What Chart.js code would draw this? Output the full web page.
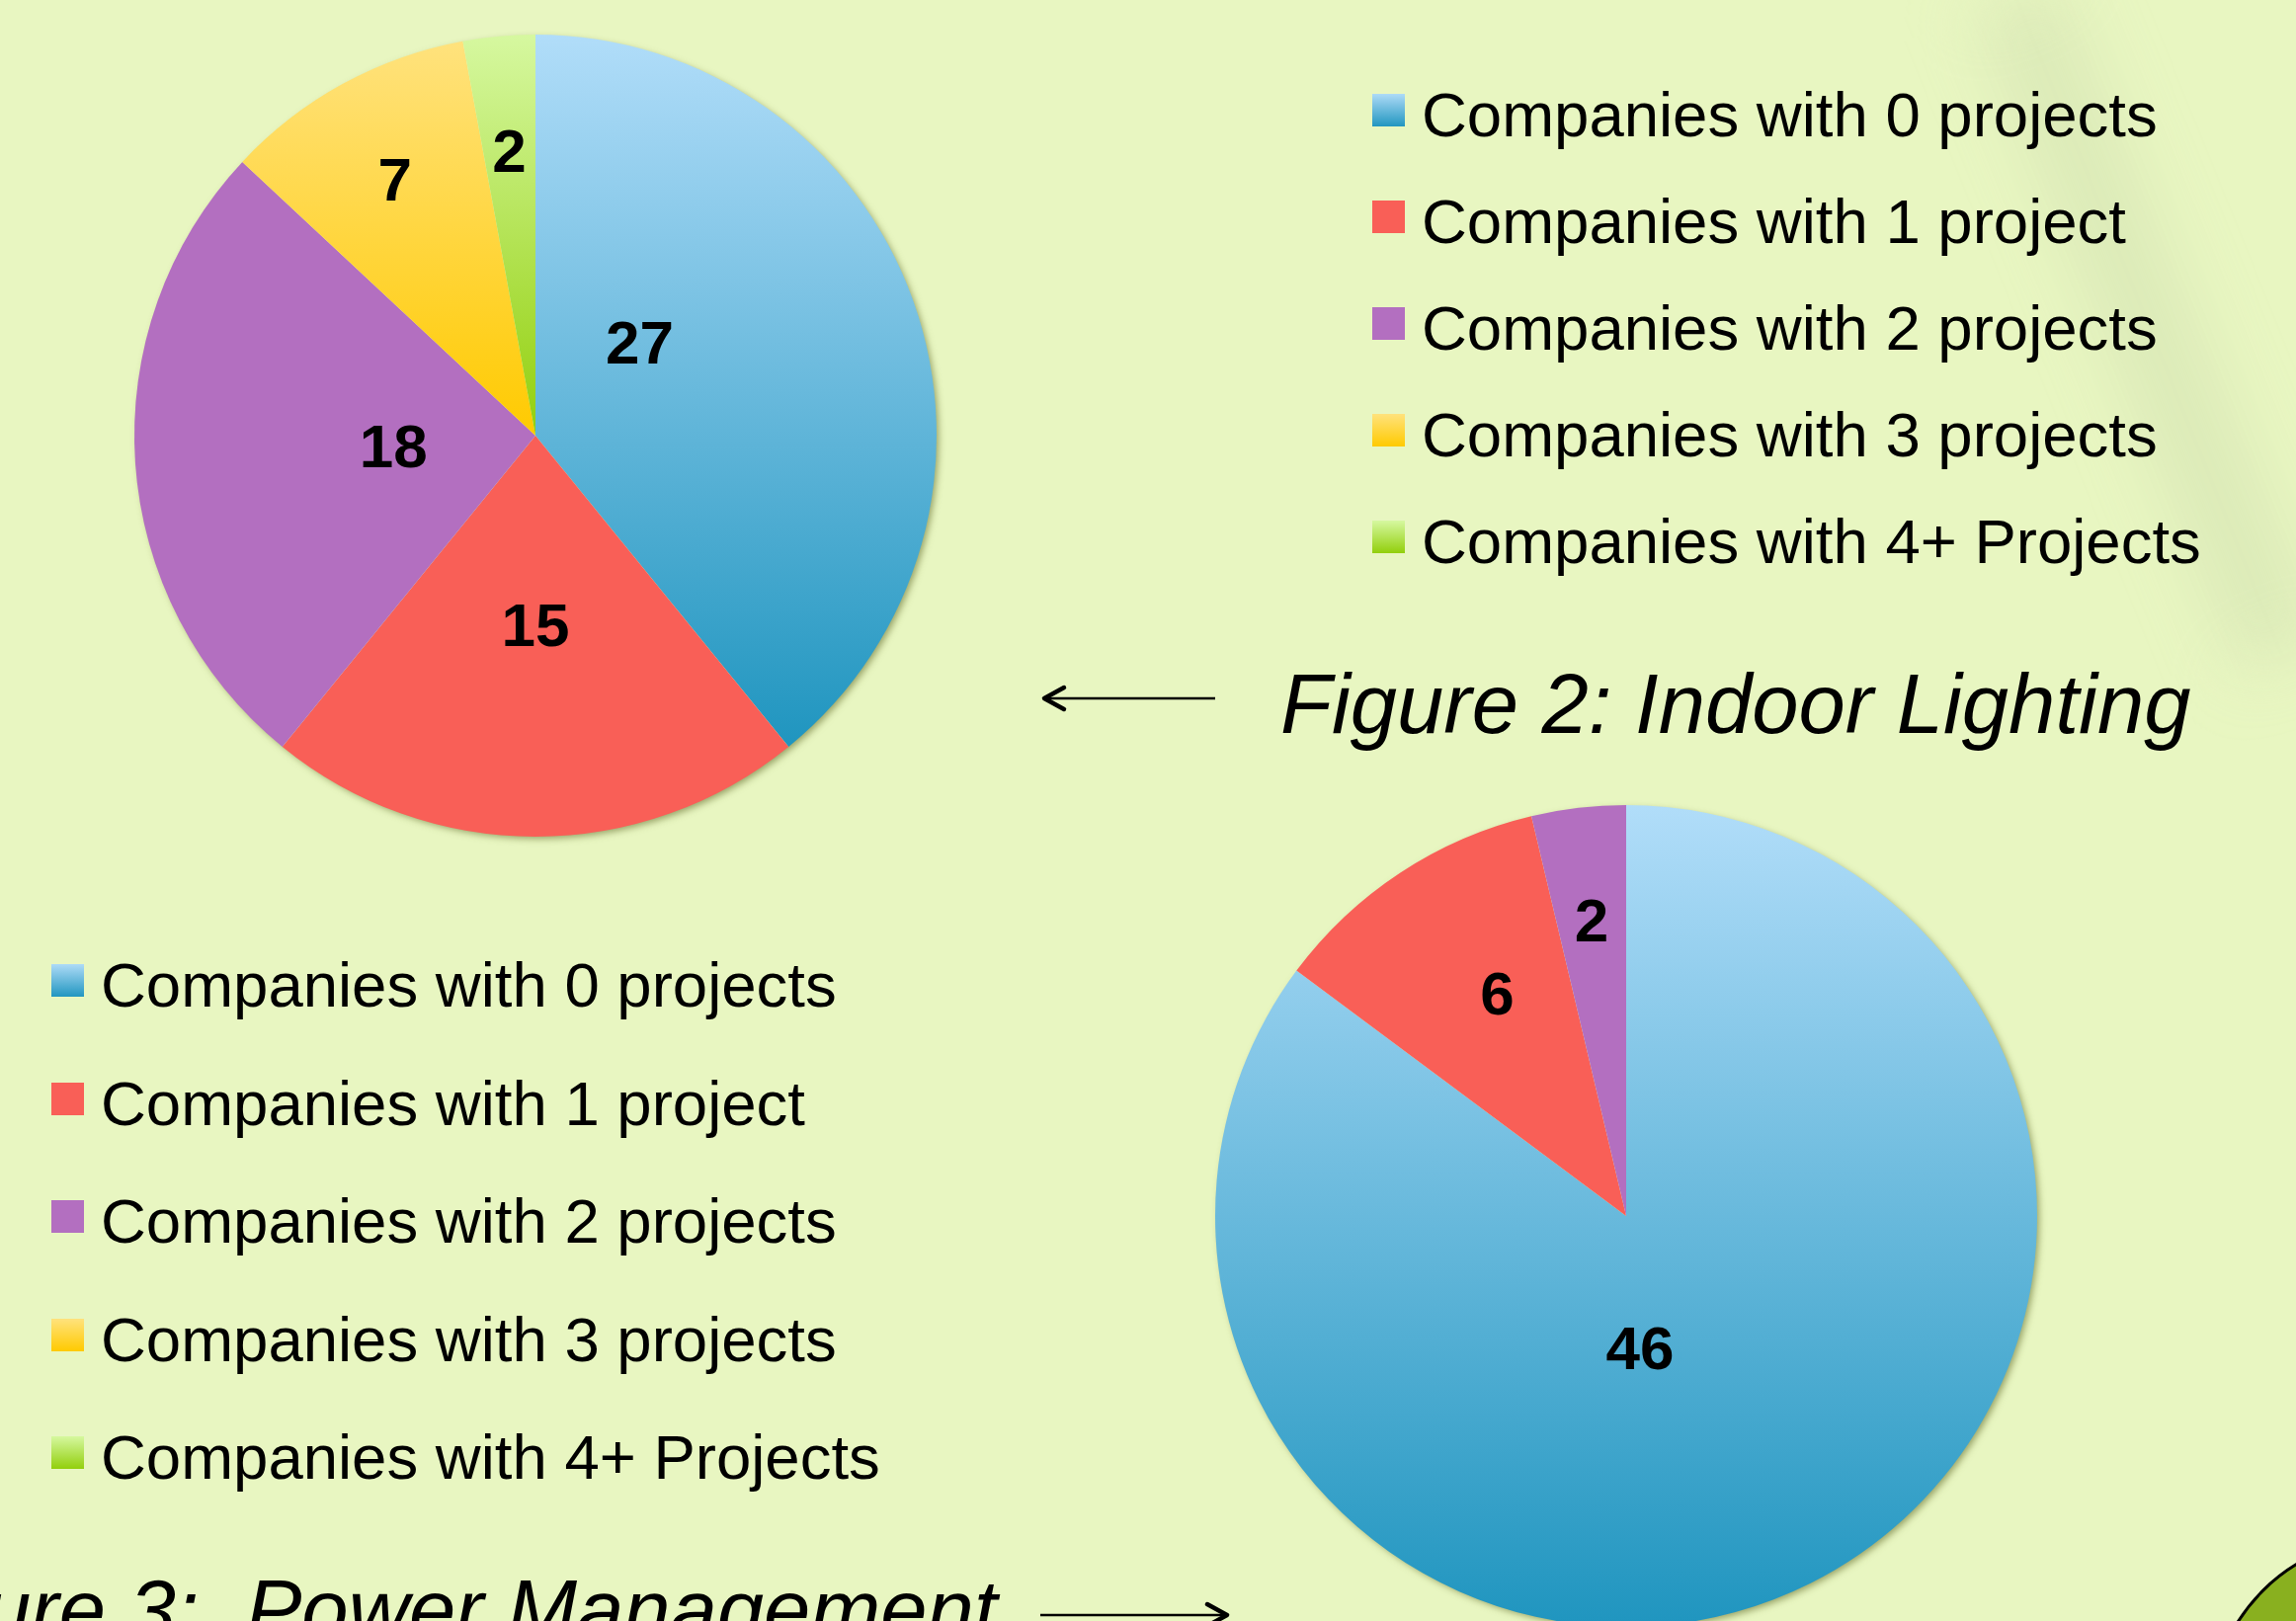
<!DOCTYPE html>
<html>
<head>
<meta charset="utf-8">
<script src="https://cdn.jsdelivr.net/npm/chart.js@4.4.0/dist/chart.umd.min.js"></script>
<style>
  html, body { margin: 0; padding: 0; }
  body {
    width: 2324px; height: 1641px; overflow: hidden; position: relative;
    background: #e8f6c1;
    font-family: "Liberation Sans", Arial, sans-serif;
  }
  .streak {
    position: absolute; left: 2130px; top: -30px; width: 90px; height: 720px;
    background: rgba(200, 214, 170, 0.4); filter: blur(34px);
    transform: rotate(-22deg);
  }
  .corner {
    position: absolute; left: 2236px; top: 1556px; width: 364px; height: 364px;
    border-radius: 50%; background: #89b01f; border: 3px solid #000; box-sizing: border-box;
  }
  canvas { position: absolute; }
  #indoorChart { left: 116px; top: 15px; }
  #powerChart { left: 1210px; top: 795px; }
  .legend { position: absolute; font-size: 63.5px; line-height: 1; color: #000; white-space: nowrap; }
  .legend .row { position: absolute; left: 0; }
  .legend .box { position: absolute; width: 33px; height: 33px; }
  .legend .txt { position: absolute; top: 0; }
  .caption {
    position: absolute; font-size: 85px; line-height: 1; font-style: italic;
    color: #000; white-space: pre;
  }
  svg { position: absolute; left: 0; top: 0; }
</style>
</head>
<body>
<div class="streak"></div>
<div class="corner"></div>

<canvas id="indoorChart" width="852" height="852"></canvas>
<canvas id="powerChart" width="872" height="872"></canvas>

<div class="legend" id="legendIndoor" style="left:1389px; top:85px;"></div>
<div class="legend" id="legendPower" style="left:52px; top:966px;"></div>

<div class="caption" style="left:1296px; top:670px;">Figure 2: Indoor Lighting</div>
<div class="caption" style="left:-134px; top:1587px;">Figure 3:  Power Management</div>

<svg width="2324" height="1641">
  <line x1="1057" y1="707" x2="1230" y2="707" stroke="#000" stroke-width="2.5"/>
  <polyline points="1077,696 1057,707 1077,718" fill="none" stroke="#000" stroke-width="4.5" stroke-linecap="round" stroke-linejoin="round"/>
  <line x1="1053" y1="1635" x2="1242" y2="1635" stroke="#000" stroke-width="2.5"/>
  <polyline points="1222,1624 1242,1635 1222,1646" fill="none" stroke="#000" stroke-width="4.5" stroke-linecap="round" stroke-linejoin="round"/>
</svg>

<script>
const categories = [
  'Companies with 0 projects',
  'Companies with 1 project',
  'Companies with 2 projects',
  'Companies with 3 projects',
  'Companies with 4+ Projects'
];
const indoorLightingValues = [27, 15, 18, 7, 2];
const powerManagementValues = [46, 6, 2, 0, 0];

// slice fills: [top, bottom] pairs are vertical gradients over the slice
const sliceColors = [
  ['#b1ddf9', '#1f95bf'],
  '#f95f57',
  '#b36fc0',
  ['#ffe27d', '#ffca00'],
  ['#d6f8a0', '#92cf0c']
];
const legendSwatches = [
  'linear-gradient(#aedbf7, #2196c0)',
  '#f95f57',
  '#b36fc0',
  'linear-gradient(#ffe27d, #ffca00)',
  'linear-gradient(#d6f8a0, #92cf0c)'
];

// label placement: angle (deg clockwise from top, null = slice middle) and radius fraction
const indoorLabelAngles = [48, null, null, null, null];
const indoorLabelRadii = [0.35, 0.47, 0.355, 0.73, 0.715];
const powerLabelAngles = [174, 330, null, null, null];
const powerLabelRadii = [0.32, 0.627, 0.726, 0.7, 0.7];

function sliceFill(c) {
  const col = sliceColors[c.dataIndex];
  if (!Array.isArray(col)) return col;
  const chart = c.chart;
  const area = chart.chartArea;
  if (!area) return col[1];
  const data = c.dataset.data;
  const total = data.reduce((a, b) => a + b, 0);
  let before = 0;
  for (let i = 0; i < c.dataIndex; i++) before += data[i];
  const cx = (area.left + area.right) / 2;
  const cy = (area.top + area.bottom) / 2;
  const R = Math.min(area.right - area.left, area.bottom - area.top) / 2;
  const start = -Math.PI / 2 + 2 * Math.PI * before / total;
  const end = start + 2 * Math.PI * data[c.dataIndex] / total;
  const ys = [cy, cy + R * Math.sin(start), cy + R * Math.sin(end)];
  [-Math.PI / 2, Math.PI / 2, 3 * Math.PI / 2].forEach(k => {
    if (k >= start && k <= end) ys.push(cy + R * Math.sin(k));
  });
  const top = Math.min(...ys);
  const bottom = Math.max(...ys);
  const g = chart.ctx.createLinearGradient(0, top, 0, bottom + 1);
  g.addColorStop(0, col[0]);
  g.addColorStop(1, col[1]);
  return g;
}

const pieShadow = {
  id: 'pieShadow',
  beforeDatasetsDraw(chart) {
    const arc = chart.getDatasetMeta(0).data[0];
    if (!arc) return;
    const ctx = chart.ctx;
    ctx.save();
    ctx.shadowColor = 'rgba(95, 105, 40, 0.6)';
    ctx.shadowBlur = 7;
    ctx.shadowOffsetX = 3;
    ctx.shadowOffsetY = 3;
    ctx.beginPath();
    ctx.arc(arc.x, arc.y, arc.outerRadius - 1, 0, Math.PI * 2);
    ctx.fillStyle = '#e8f6c1';
    ctx.fill();
    ctx.restore();
  }
};

const sliceLabels = {
  id: 'sliceLabels',
  afterDatasetsDraw(chart, args, opts) {
    const meta = chart.getDatasetMeta(0);
    const values = chart.data.datasets[0].data;
    const ctx = chart.ctx;
    ctx.save();
    ctx.font = 'bold ' + opts.size + 'px "Liberation Sans", Arial, sans-serif';
    ctx.fillStyle = '#000';
    ctx.textAlign = 'center';
    ctx.textBaseline = 'alphabetic';
    meta.data.forEach((arc, i) => {
      if (!values[i]) return;
      const a = opts.angles[i] != null
        ? (opts.angles[i] - 90) * Math.PI / 180
        : (arc.startAngle + arc.endAngle) / 2;
      const r = arc.outerRadius * opts.radii[i];
      ctx.fillText(String(values[i]), arc.x + r * Math.cos(a), arc.y + r * Math.sin(a) + 0.358 * opts.size);
    });
    ctx.restore();
  }
};

function makePie(id, values, angles, radii) {
  return new Chart(document.getElementById(id), {
    type: 'pie',
    data: {
      labels: categories,
      datasets: [{
        data: values,
        backgroundColor: sliceFill,
        borderWidth: 0
      }]
    },
    options: {
      responsive: false,
      animation: false,
      events: [],
      layout: { padding: 20 },
      plugins: {
        legend: { display: false },
        tooltip: { enabled: false },
        sliceLabels: { size: 62, angles: angles, radii: radii }
      }
    },
    plugins: [pieShadow, sliceLabels]
  });
}

makePie('indoorChart', indoorLightingValues, indoorLabelAngles, indoorLabelRadii);
makePie('powerChart', powerManagementValues, powerLabelAngles, powerLabelRadii);

function buildLegend(id, spacing) {
  const el = document.getElementById(id);
  categories.forEach((name, i) => {
    const row = document.createElement('div');
    row.className = 'row';
    row.style.top = (i * spacing) + 'px';
    const box = document.createElement('div');
    box.className = 'box';
    box.style.top = '10px';
    box.style.background = legendSwatches[i];
    const txt = document.createElement('div');
    txt.className = 'txt';
    txt.style.left = '50px';
    txt.textContent = name;
    row.appendChild(box);
    row.appendChild(txt);
    el.appendChild(row);
  });
}
buildLegend('legendIndoor', 108);
buildLegend('legendPower', 119.5);
</script>
</body>
</html>
